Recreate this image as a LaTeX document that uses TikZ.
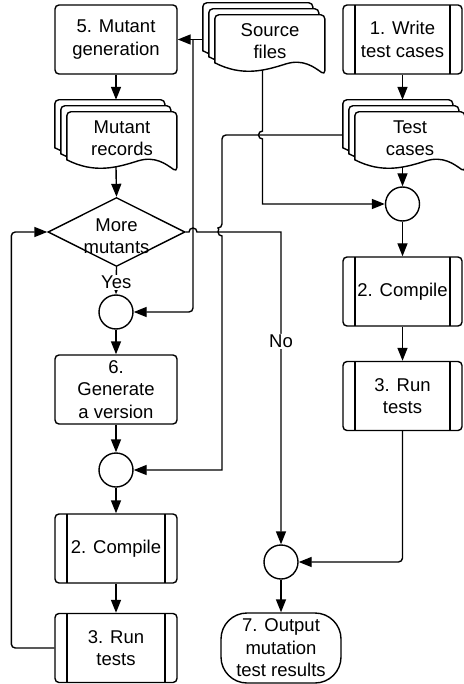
\documentclass[tikz,border=0pt]{standalone}
\usepackage{fontspec}
\setmainfont{Liberation Sans}
\usepackage{tikz}
\usetikzlibrary{positioning, arrows.meta, shapes.geometric, backgrounds}
\newcommand{\flowfont}{\fontsize{18.5}{22.5}\selectfont}
\tikzset{
    base/.style={draw, line width=1.4pt, fill=white, font=\flowfont, align=center, inner sep=1pt},
    procnode/.style={base, rectangle, rounded corners=4pt, minimum width=122pt, minimum height=69pt},
    subnode/.style={procnode, path picture={
        \draw[line width=1.4pt] ([xshift=12pt]path picture bounding box.north west) -- ([xshift=12pt]path picture bounding box.south west);
        \draw[line width=1.4pt] ([xshift=-12pt]path picture bounding box.north east) -- ([xshift=-12pt]path picture bounding box.south east);}},
    decnode/.style={base, diamond, aspect=2, inner sep=0, minimum width=137pt, minimum height=69pt},
    joinnode/.style={base, circle, inner sep=0, minimum size=34pt},
    termnode/.style={base, rectangle, rounded corners=26pt, minimum width=120pt, minimum height=70pt},
    docnode/.style={rectangle, font=\flowfont, align=center, inner sep=0, minimum width=110pt, minimum height=52pt},
    docline/.style={draw, line width=1.4pt, fill=white},
    flow/.style={draw, line width=1.4pt, -{Triangle[length=13pt, width=10pt]}},
    lbl/.style={fill=white, font=\flowfont, inner sep=1pt}
}
% stacked document outline behind a docnode
\newcommand{\docstack}[1]{%
    \begin{scope}[on background layer]
        \foreach \d in {12,6,0}
            \draw[docline, shift={(#1.north west)}, shift={(-\d,-\d)}]
                (0,48) [rounded corners=4pt] -- (0,0) -- (110,0) -- (110,60) [sharp corners]
                .. controls (99,52) and (88,44) .. (71.5,49)
                .. controls (49.5,56) and (27.5,62) .. (0,48) -- cycle;
    \end{scope}}

\begin{document}
\begin{tikzpicture}[x=1pt, y=-1pt]
    \useasboundingbox (0,0) rectangle (463,684);

    % left column
    \node[procnode] (gen) at (116,39.5) {5. Mutant\\generation};
    \node[docnode] (mutrec) at (122,138) {Mutant\\records};
    \node[decnode] (more) at (116.5,232) {};
    \node[font=\flowfont, align=center, inner sep=0] (moretxt) at (116.5,236) {More\\mutants};
    \node[joinnode] (joinA) at (116,312) {};
    \node[procnode] (genver) at (116,389.5) {6.\\Generate\\a version};
    \node[joinnode] (joinB) at (116,470) {};
    \node[subnode] (compL) at (116,548.5) {2. Compile};
    \node[subnode] (runL) at (116,648) {3. Run\\tests};

    % middle and right column
    \node[docnode] (src) at (270,41) {Source\\files};
    \node[subnode, minimum width=119pt] (write) at (402.5,39.5) {1. Write\\test cases};
    \node[docnode] (tests) at (410,138) {Test\\cases};
    \node[joinnode] (joinR) at (402.5,204) {};
    \node[subnode, minimum width=119pt] (compR) at (402.5,291.5) {2. Compile};
    \node[subnode, minimum width=119pt] (runR) at (402.5,396) {3. Run\\tests};
    \node[joinnode] (joinC) at (281,562) {};
    \node[termnode] (out) at (281,648) {7. Output\\mutation\\test results};

    \docstack{src}
    \docstack{mutrec}
    \docstack{tests}

    % mutant loop
    \draw[flow] (gen.south) -- ([shift={(-6,-12)}]mutrec.north);
    \draw[flow] ([shift={(-6,3)}]mutrec.south) -- (more.north);
    \draw[flow] (more.south) -- node[lbl, pos=0.55] {Yes} (joinA.north);
    \draw[flow] (joinA.south) -- (genver.north);
    \draw[flow] (genver.south) -- (joinB.north);
    \draw[flow] (joinB.south) -- (compL.north);
    \draw[flow] (compL.south) -- (runL.north);
    \draw[flow, rounded corners=4pt] (runL.west) -- ++(-43,0) |- (more.west);
    \draw[flow] (more.east) -- (189,232) arc[start angle=180, end angle=0, radius=4pt]
        -- (more.east -| joinC.north) [rounded corners=4pt] -- node[lbl, pos=0.35] {No} (joinC.north);

    % source files
    \coordinate (fork) at (193,39.5);
    \draw[flow] ([shift={(-12,-1.5)}]src.west) -- (gen.east);
    \draw[flow, rounded corners=4pt] (fork) |- (joinA.east);
    \draw[flow] ([shift={(-7.5,3)}]src.south) -- (262.5,131) arc[start angle=90, end angle=270, radius=4pt]
        -- (262.5,204) [rounded corners=4pt] -- (joinR.west);

    % test cases
    \draw[flow] (write.south) -- ([shift={(-7.5,-12)}]tests.north);
    \draw[flow] ([shift={(-12,-3)}]tests.west) [rounded corners=4pt] -- (222,135) -- (222,228) [sharp corners]
        arc[start angle=90, end angle=270, radius=4pt] -- (222,470) [rounded corners=4pt] -- (joinB.east);
    \draw[flow] ([shift={(-7.5,3)}]tests.south) -- (joinR.north);
    \draw[flow] (joinR.south) -- (compR.north);
    \draw[flow] (compR.south) -- (runR.north);
    \draw[flow, rounded corners=4pt] (runR.south) |- (joinC.east);
    \draw[flow] (joinC.south) -- (out.north);
\end{tikzpicture}
\end{document}
